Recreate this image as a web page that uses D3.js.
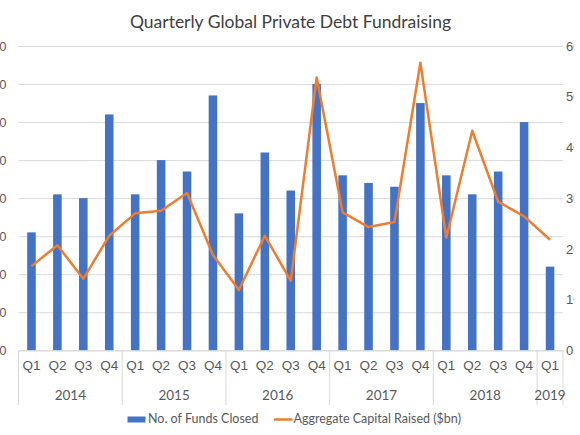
<!DOCTYPE html>
<html>
<head>
<meta charset="utf-8">
<script src="https://cdn.jsdelivr.net/npm/d3@7"></script>
<style>
  body { margin: 0; background: #fff; }
  svg { display: block; font-family: Lato, "Noto Sans", sans-serif; }
</style>
</head>
<body>
<script>
// chart data
const quarterLabels = ["Q1","Q2","Q3","Q4","Q1","Q2","Q3","Q4","Q1","Q2","Q3","Q4",
                       "Q1","Q2","Q3","Q4","Q1","Q2","Q3","Q4","Q1"];
const yearLabels = ["2014","2015","2016","2017","2018","2019"];
const quartersPerYear = [4, 4, 4, 4, 4, 1];
// No. of Funds Closed (left axis)
const fundsClosed = [31, 41, 40, 62, 41, 50, 47, 67, 36, 52, 42, 70,
                     46, 44, 43, 65, 46, 41, 47, 60, 22];
// Aggregate Capital Raised ($bn) (right axis)
const capitalRaised = [16.6, 20.7, 14.1, 22.6, 27.0, 27.5, 31.0, 18.8, 11.9, 22.6, 13.7, 53.8,
                       27.2, 24.3, 25.3, 56.7, 22.2, 43.3, 29.3, 26.4, 21.8];
const leftTicks = [0, 10, 20, 30, 40, 50, 60, 70, 80];
const rightTicks = [0, 10, 20, 30, 40, 50, 60];

const w = 580, h = 435;
const plot = { left: 18.5, right: 563, top: 46, bottom: 350.3 };
const gridColor = "#d9d9d9";
const textColor = "#595959";

const svg = d3.select("body").append("svg")
    .attr("width", w)
    .attr("height", h);

// clip so the right axis labels are cut like the reference
svg.append("defs").append("clipPath").attr("id", "rightClip")
    .append("rect").attr("x", 0).attr("y", 0).attr("width", 574).attr("height", h);

// scales
const idx = d3.range(quarterLabels.length);
const x = d3.scaleBand()
    .domain(idx)
    .range([plot.left, plot.right])
    .paddingInner(0.67)
    .paddingOuter(0.335);
const step = x.step();
const yLeft = d3.scaleLinear().domain([0, 80]).range([plot.bottom, plot.top]);
const yRight = d3.scaleLinear().domain([0, 60]).range([plot.bottom, plot.top]);

// gridlines + left axis
const leftAxis = svg.append("g")
    .attr("transform", `translate(${plot.left},0)`)
    .call(d3.axisLeft(yLeft).tickValues(leftTicks)
        .tickSize(-(plot.right - plot.left)).tickPadding(12));
leftAxis.select(".domain").remove();
leftAxis.selectAll(".tick line").attr("stroke", gridColor).attr("stroke-width", 1);
leftAxis.selectAll(".tick text")
    .attr("fill", textColor).style("font-size", "13px");

// right axis
const rightAxis = svg.append("g")
    .attr("clip-path", "url(#rightClip)")
    .append("g")
    .attr("transform", `translate(${plot.right},0)`)
    .call(d3.axisRight(yRight).tickValues(rightTicks).tickSize(0).tickPadding(3));
rightAxis.select(".domain").remove();
rightAxis.selectAll(".tick text")
    .attr("fill", textColor).style("font-size", "13px");

// bars
svg.selectAll("rect.bar")
    .data(fundsClosed)
    .enter()
    .append("rect")
    .attr("class", "bar")
    .attr("x", (d, i) => x(i))
    .attr("y", d => yLeft(d))
    .attr("width", x.bandwidth())
    .attr("height", d => yLeft(0) - yLeft(d))
    .attr("fill", "#4472c4");

// line
const line = d3.line()
    .x((d, i) => x(i) + x.bandwidth() / 2)
    .y(d => yRight(d));
svg.append("path")
    .datum(capitalRaised)
    .attr("d", line)
    .attr("fill", "none")
    .attr("stroke", "#ed7d31")
    .attr("stroke-width", 2.5)
    .attr("stroke-linejoin", "round");

// bottom axis: quarter labels
const bottomAxis = svg.append("g")
    .attr("transform", `translate(0,${plot.bottom})`)
    .call(d3.axisBottom(x).tickSize(0).tickPadding(10).tickFormat(i => quarterLabels[i]));
bottomAxis.select(".domain").attr("stroke", gridColor);
bottomAxis.selectAll(".tick text")
    .attr("fill", textColor).style("font-size", "13.5px");

// year groups and separators
let start = 0;
const yearPos = yearLabels.map((yr, k) => {
    const s = start;
    start += quartersPerYear[k];
    return { yr: yr, from: s, to: start };
});
const bounds = [0].concat(yearPos.map(d => d.to));
svg.selectAll("line.sep")
    .data(bounds)
    .enter()
    .append("line")
    .attr("class", "sep")
    .attr("x1", d => plot.left + d * step)
    .attr("x2", d => plot.left + d * step)
    .attr("y1", plot.bottom)
    .attr("y2", 405)
    .attr("stroke", gridColor);
svg.selectAll("text.year")
    .data(yearPos)
    .enter()
    .append("text")
    .attr("class", "year")
    .attr("x", d => plot.left + (d.from + d.to) / 2 * step)
    .attr("y", 400)
    .attr("text-anchor", "middle")
    .attr("fill", textColor)
    .style("font-size", "13.5px")
    .text(d => d.yr);

// title
svg.append("text")
    .attr("x", 290.5)
    .attr("y", 28)
    .attr("text-anchor", "middle")
    .attr("fill", "#404040")
    .style("font-size", "17.5px")
    .text("Quarterly Global Private Debt Fundraising");

// legend
const legend = svg.append("g");
legend.append("rect")
    .attr("x", 127.5).attr("y", 416.5).attr("width", 18).attr("height", 6)
    .attr("fill", "#4472c4");
legend.append("text")
    .attr("x", 148).attr("y", 423.3)
    .attr("fill", textColor).style("font-size", "12.5px")
    .text("No. of Funds Closed");
legend.append("line")
    .attr("x1", 274).attr("x2", 292.5).attr("y1", 419.5).attr("y2", 419.5)
    .attr("stroke", "#ed7d31").attr("stroke-width", 2.5);
legend.append("text")
    .attr("x", 293.5).attr("y", 423.3)
    .attr("fill", textColor).style("font-size", "12.5px")
    .text("Aggregate Capital Raised ($bn)");
</script>
</body>
</html>
